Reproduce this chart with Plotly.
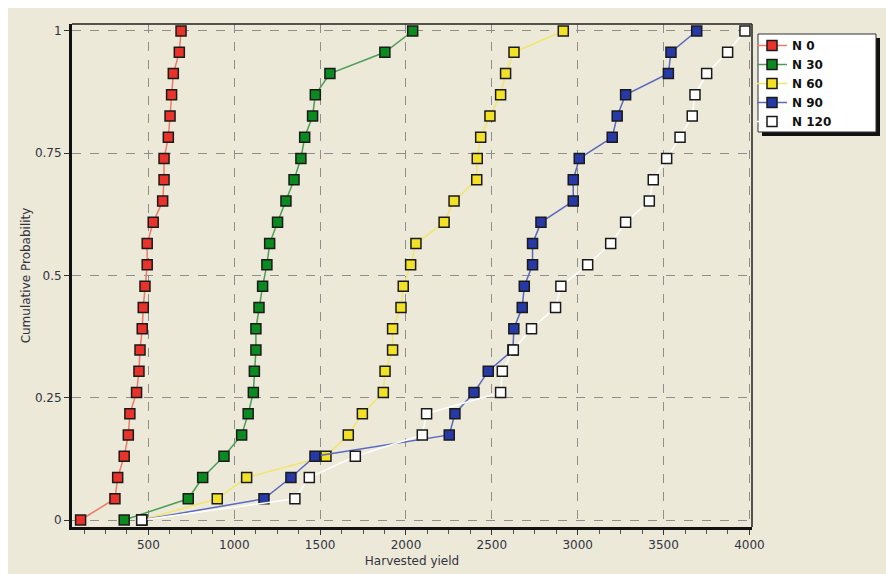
import plotly.graph_objects as go

# Cumulative probability levels (24 ranked observations per treatment)
probability = [i / 23 for i in range(24)]

# Harvested yield, sorted ascending, for each nitrogen rate
yield_n0 = [105, 305, 321, 359, 383, 392, 431, 445, 451, 464, 470, 480,
            493, 493, 528, 583, 591, 591, 616, 626, 635, 645, 680, 690]
yield_n30 = [359, 732, 816, 940, 1043, 1081, 1111, 1117, 1126, 1126, 1144, 1165,
             1190, 1206, 1252, 1301, 1348, 1388, 1410, 1456, 1472, 1557, 1877, 2039]
yield_n60 = [461, 901, 1072, 1534, 1664, 1746, 1868, 1878, 1922, 1922, 1971, 1984,
             2027, 2058, 2222, 2280, 2412, 2415, 2435, 2489, 2551, 2580, 2629, 2916]
yield_n90 = [461, 1173, 1330, 1470, 2252, 2285, 2396, 2479, 2623, 2628, 2677, 2689,
             2737, 2737, 2786, 2974, 2974, 3009, 3201, 3230, 3279, 3528, 3543, 3693]
yield_n120 = [461, 1353, 1437, 1705, 2095, 2120, 2551, 2561, 2625, 2731, 2871, 2902,
              3058, 3192, 3279, 3417, 3440, 3518, 3596, 3667, 3683, 3751, 3873, 3974]

series_names = ["N 0", "N 30", "N 60", "N 90", "N 120"]
series_values = [yield_n0, yield_n30, yield_n60, yield_n90, yield_n120]
fill_colors = ["#E8322A", "#0B8A1F", "#F2E125", "#2639A6", "#FFFFFF"]
line_colors = ["#F07A68", "#4C9E55", "#F2E56A", "#5A68C2", "#FFFFFF"]

x_ticks = [500, 1000, 1500, 2000, 2500, 3000, 3500, 4000]
y_ticks = [0, 0.25, 0.5, 0.75, 1]
y_tick_text = ["0", "0.25", "0.5", "0.75", "1"]

BG = "#ECE9D8"
FONT = "DejaVu Sans"

fig = go.Figure()
for name, vals, fc, lc in zip(series_names, series_values, fill_colors, line_colors):
    fig.add_trace(go.Scatter(
        x=vals, y=probability, name=name, mode="lines+markers",
        line=dict(color=lc, width=1.5),
        marker=dict(symbol="square", size=10, color=fc,
                    line=dict(color="#1A1A1A", width=1.5)),
    ))

L, R, T, B = 72, 134, 24, 47
W, H = 886, 574
pw, ph = W - L - R, H - T - B

def px_x(p):
    return (p - L) / pw

def px_y(p):
    return (H - B - p) / ph

shapes = [
    # white strip along the top and left of the page
    dict(type="rect", xref="paper", yref="paper",
         x0=px_x(0), x1=px_x(W), y0=px_y(8), y1=px_y(-2),
         fillcolor="white", line=dict(width=0), layer="below"),
    dict(type="rect", xref="paper", yref="paper",
         x0=px_x(-2), x1=px_x(8), y0=px_y(H), y1=px_y(0),
         fillcolor="white", line=dict(width=0), layer="below"),
    # thin frame on top and right of the plot area
    dict(type="line", xref="paper", yref="paper", x0=0, x1=1, y0=1, y1=1,
         line=dict(color="#222222", width=1.5), layer="above"),
    dict(type="line", xref="paper", yref="paper", x0=1, x1=1, y0=0, y1=1,
         line=dict(color="#222222", width=1.5), layer="above"),
    # legend box with drop shadow
    dict(type="rect", xref="paper", yref="paper",
         x0=px_x(762), x1=px_x(880), y0=px_y(136), y1=px_y(38),
         fillcolor="#111111", line=dict(width=0), layer="above"),
    dict(type="rect", xref="paper", yref="paper",
         x0=px_x(758), x1=px_x(876), y0=px_y(132), y1=px_y(34),
         fillcolor="white", line=dict(color="#333333", width=1), layer="above"),
]

fig.update_layout(
    width=W, height=H,
    margin=dict(l=L, r=R, t=T, b=B, pad=0, autoexpand=False),
    paper_bgcolor=BG, plot_bgcolor=BG,
    font=dict(family=FONT, size=12, color="#333340"),
    shapes=shapes,
    showlegend=True,
    legend=dict(
        x=px_x(752), y=px_y(31), xanchor="left", yanchor="top",
        bgcolor="rgba(0,0,0,0)", borderwidth=0,
        font=dict(family=FONT, size=12, color="#111111", weight="bold"),
        itemwidth=30, tracegroupgap=0,
    ),
    xaxis=dict(
        range=[55, 4015], tickvals=x_ticks, ticktext=[str(v) for v in x_ticks],
        showgrid=True, gridcolor="#8E8E8E", griddash="dash", gridwidth=1,
        zeroline=False, showline=True, linecolor="#111111", linewidth=3,
        ticks="outside", ticklen=5, tickcolor="#333333", tickwidth=1,
        minor=dict(dtick=125, tick0=0, ticks="outside", ticklen=4,
                   tickcolor="#555555", showgrid=False),
        automargin=False,
        title=dict(text="Harvested yield", font=dict(size=12, color="#333340"),
                   standoff=6),
    ),
    yaxis=dict(
        range=[-0.0143, 1.0143], tickvals=y_ticks, ticktext=y_tick_text,
        showgrid=True, gridcolor="#8E8E8E", griddash="dash", gridwidth=1,
        zeroline=False, showline=True, linecolor="#111111", linewidth=3,
        ticks="outside", ticklen=5, tickcolor="#333333", tickwidth=1,
        automargin=False,
        title=dict(text="Cumulative Probability", font=dict(size=12, color="#333340"),
                   standoff=2),
    ),
)

fig.write_html("out.html")
